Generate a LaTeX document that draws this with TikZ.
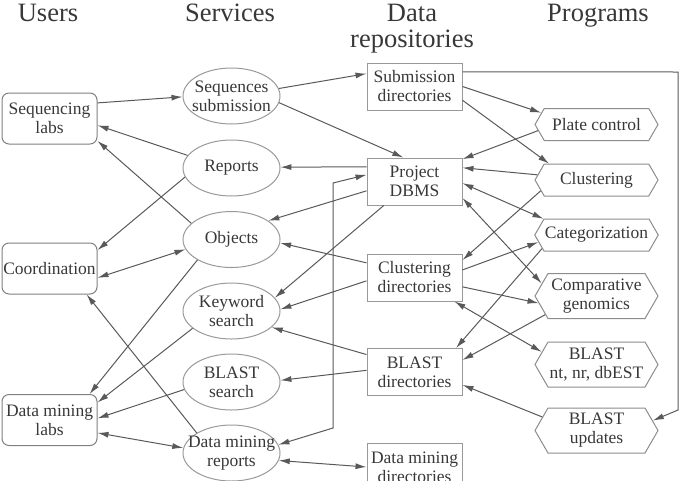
\documentclass[tikz,border=0pt]{standalone}
\usepackage{fontspec}
\setmainfont{Liberation Serif}
\usetikzlibrary{shapes.geometric,shapes.symbols,arrows.meta}
\begin{document}
\begin{tikzpicture}[x=1pt,y=-1pt,
  every node/.style={text=black!78},
  nfont/.style={font=\fontsize{17.5}{19}\selectfont},
  user/.style={nfont, draw=black!50, line width=1pt, rounded corners=7pt, minimum width=95pt, minimum height=51pt, inner sep=1pt, align=center},
  serv/.style={nfont, draw=black!40, line width=1pt, ellipse, minimum width=97pt, minimum height=56pt, inner xsep=-30pt, inner ysep=-15pt, align=center},
  repo/.style={nfont, draw=black!40, line width=1pt, minimum width=95pt, minimum height=47pt, inner sep=1pt, align=center},
  prog/.style={nfont, draw=black!45, line width=1pt, signal, signal to=west and east, signal pointer angle=120, minimum width=123pt, minimum height=32pt, inner sep=1pt, align=center},
  head/.style={font=\fontsize{26.5}{26}\selectfont, align=center},
  edge/.style={draw=black!65, line width=1pt, -{Latex[length=11pt,width=6pt]}},
  bedge/.style={draw=black!65, line width=1pt, {Latex[length=11pt,width=6pt]}-{Latex[length=11pt,width=6pt]}},
]
\useasboundingbox (0,0) rectangle (682,480);

\node[head, anchor=base] (hu) at (48,21) {Users};
\node[head, anchor=base] (hs) at (230,21) {Services};
\node[head, anchor=base] (hd) at (412,47) {Data\\repositories};
\node[head, anchor=base] (hp) at (598,21) {Programs};

\node[user] (sl) at (49.5,118.5) {Sequencing\\labs};
\node[user] (co) at (49.5,268.5) {Coordination};
\node[user] (dml) at (49.5,420) {Data mining\\labs};

\node[serv] (ss) at (231.5,96) {Sequences\\submission};
\node[serv] (rep) at (231.5,168) {Reports};
\node[serv] (obj) at (231.5,239.5) {Objects};
\node[serv] (kw) at (231.5,311) {Keyword\\search};
\node[serv] (bs) at (231.5,382) {BLAST\\search};
\node[serv] (dmr) at (231.5,453) {Data mining\\reports};

\node[repo] (sd) at (414.5,86.5) {Submission\\directories};
\node[repo] (pd) at (414.5,181.5) {Project\\DBMS};
\node[repo] (cd) at (414.5,277.5) {Clustering\\directories};
\node[repo] (bd) at (414.5,372) {BLAST\\directories};
\node[repo] (dmd) at (414.5,467) {Data mining\\directories};

\node[prog] (pc) at (596.5,124.5) {Plate control};
\node[prog] (cl) at (596.5,180) {Clustering};
\node[prog] (cat) at (596.5,235) {Categorization};
\node[prog, minimum height=45pt] (cg) at (596.5,296) {Comparative\\genomics};
\node[prog, minimum height=45pt] (bn) at (596.5,364.5) {BLAST\\nt, nr, dbEST};
\node[prog, minimum height=45pt] (bu) at (596.5,430.5) {BLAST\\updates};

\coordinate (k1) at (333,428);
\coordinate (k2) at (333,183);
\coordinate (k3) at (678,72);
\coordinate (k4) at (678,410);

\draw[edge] (sl.18) -- (ss.181);
\draw[edge] (rep.164) -- (sl.-8);
\draw[edge] (obj.158) -- (sl.-25);
\draw[edge] (rep.191) -- (co.21);
\draw[bedge] (co.-11) -- (obj.192);
\draw[edge] (obj.211) -- (dml.33);
\draw[edge] (kw.204) -- (dml.20);
\draw[edge] (bs.189) -- (dml.2);
\draw[bedge] (dml.-15) -- (dmr.174);
\draw[edge] (dmr.150) -- (co.-35);
\draw[edge] (ss.9) -- (sd.165);
\draw[edge] (ss.-8) -- (pd.115);
\draw[edge] (pd.163) -- (rep.1);
\draw[bedge] (dmr.10) -- (k1) -- (k2) -- (pd.172);
\draw[edge] (pd.191) -- (obj.27);
\draw[edge] (cd.163) -- (obj.-4);
\draw[edge] (pd.218) -- (kw.17);
\draw[edge] (cd.184) -- (kw.2);
\draw[edge] (bd.160) -- (kw.-22);
\draw[edge] (bd.178) -- (bs.2);
\draw[bedge] (dmr.-9) -- (dmd.180);
\draw[edge] (sd.0) -- (pc.168);
\draw[edge] (sd.-16) -- (cl.161);
\draw[edge] (pc.186) -- (pd.25);
\draw[edge] (cl.175) -- (pd.16);
\draw[bedge] (pd.-2) -- (cat.163);
\draw[bedge] (pd.-19) -- (cg.167);
\draw[edge] (cl.191) -- (cd.20);
\draw[edge] (cd.9) -- (cat.187);
\draw[edge] (cd.-11) -- (cg.187);
\draw[edge] (cat.194) -- (bd.30);
\draw[edge] (cg.200) -- (bd.14);
\draw[bedge] (cd.-31) -- (bn.167);
\draw[edge] (bu.166) -- (bd.-15);
\draw[edge] (sd.17) -- (k3) -- (k4) -- (bu.10);
\end{tikzpicture}
\end{document}
